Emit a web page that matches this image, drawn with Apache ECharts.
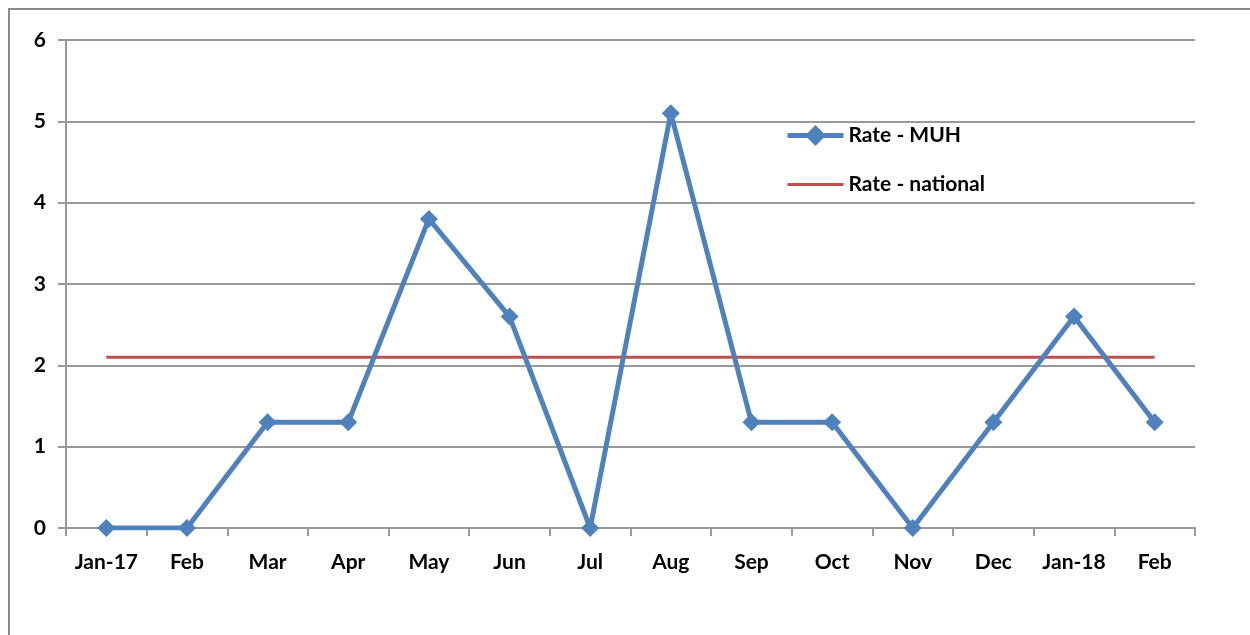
<!DOCTYPE html>
<html>
<head>
<meta charset="utf-8">
<script src="https://cdn.jsdelivr.net/npm/echarts@6/dist/echarts.min.js"></script>
<style>
  html, body { margin: 0; padding: 0; background: #fff; }
  #chart { width: 1250px; height: 635px; }
</style>
</head>
<body>
<div id="chart"></div>
<script>
const months = ['Jan-17', 'Feb', 'Mar', 'Apr', 'May', 'Jun', 'Jul', 'Aug', 'Sep', 'Oct', 'Nov', 'Dec', 'Jan-18', 'Feb']
const rateMUH = [0, 0, 1.3, 1.3, 3.8, 2.6, 0, 5.1, 1.3, 1.3, 0, 1.3, 2.6, 1.3]
const rateNational = [2.1, 2.1, 2.1, 2.1, 2.1, 2.1, 2.1, 2.1, 2.1, 2.1, 2.1, 2.1, 2.1, 2.1]

const font = 'Lato, "Open Sans", sans-serif'
const myChart = echarts.init(document.getElementById('chart'))

const option = {
  animation: false,
  graphic: [
    {
      type: 'rect',
      shape: { x: 9, y: 9, width: 1400, height: 800 },
      style: { fill: 'none', stroke: '#8a8a8a', lineWidth: 2 }
    }
  ],
  grid: { left: 66, right: 55, top: 40, bottom: 107 },
  legend: {
    orient: 'vertical',
    left: 780,
    top: 120,
    itemGap: 28,
    itemWidth: 56,
    itemHeight: 26,
    textStyle: { fontFamily: font, fontWeight: 'bold', fontSize: 21, color: '#000' },
    data: [
      { name: 'Rate - MUH', lineStyle: { width: 5 } },
      { name: 'Rate - national', icon: 'path://M0,0 L56,0 L56,3 L0,3 Z' }
    ]
  },
  xAxis: {
    type: 'category',
    data: months,
    boundaryGap: true,
    axisLine: { lineStyle: { color: '#999', width: 2 } },
    axisTick: { show: true, length: 8, lineStyle: { color: '#999', width: 2 } },
    axisLabel: { interval: 0, fontFamily: font, fontWeight: 'bold', fontSize: 21, color: '#000', margin: 24 }
  },
  yAxis: {
    type: 'value',
    min: 0,
    max: 6,
    interval: 1,
    axisLine: { show: true, lineStyle: { color: '#999', width: 2 } },
    axisTick: { show: true, length: 8, lineStyle: { color: '#999', width: 2 } },
    splitLine: { lineStyle: { color: '#999', width: 2 } },
    axisLabel: { fontFamily: font, fontWeight: 'bold', fontSize: 21, color: '#000', margin: 20 }
  },
  series: [
    {
      name: 'Rate - MUH',
      type: 'line',
      data: rateMUH,
      symbol: 'diamond',
      symbolSize: 18,
      lineStyle: { color: '#4f81bd', width: 5 },
      itemStyle: { color: '#4f81bd' },
      z: 3
    },
    {
      name: 'Rate - national',
      type: 'line',
      data: rateNational,
      symbol: 'none',
      lineStyle: { color: '#c0504d', width: 3 },
      itemStyle: { color: '#c0504d' },
      z: 2
    }
  ]
}

myChart.setOption(option)
</script>
</body>
</html>
